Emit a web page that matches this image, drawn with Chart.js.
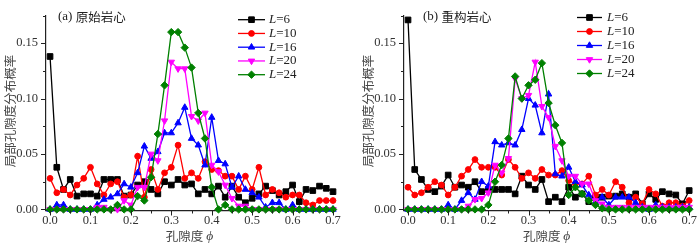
<!DOCTYPE html>
<html><head><meta charset="utf-8">
<script src="https://cdn.jsdelivr.net/npm/chart.js@4.4.0/dist/chart.umd.min.js"></script>
<style>
html,body{margin:0;padding:0;background:#fff;width:700px;height:244px;overflow:hidden;}
#wrap{position:relative;width:700px;height:244px;}
.pn{position:absolute;top:0;height:244px;}
</style></head><body>
<div id="wrap">
<div class="pn" style="left:0;width:350px"><canvas id="ca" width="350" height="244"></canvas></div>
<div class="pn" style="left:358px;width:342px"><canvas id="cb" width="342" height="244"></canvas></div>
</div>
<script>
// porosity values (x)
const phi = [0,0.0167,0.0333,0.05,0.0667,0.0833,0.1,0.1167,0.1333,0.15,0.1667,0.1833,0.2,0.2167,0.2333,0.25,0.2667,0.2833,0.3,0.3167,0.3333,0.35,0.3667,0.3833,0.4,0.4167,0.4333,0.45,0.4667,0.4833,0.5,0.5167,0.5333,0.55,0.5667,0.5833,0.6,0.6167,0.6333,0.65,0.6667,0.6833,0.7];
const windowSizes = ['6','10','16','20','24'];

// (a) 原始岩心
const a_L6  = [0.138,0.038,0.018,0.027,0.012,0.014,0.014,0.012,0.027,0.027,0.027,0.012,0.013,0.022,0.025,0.018,0.014,0.025,0.022,0.027,0.022,0.023,0.014,0.018,0.014,0.021,0.011,0.021,0.011,0.006,0.010,0.014,0.021,0.017,0.013,0.016,0.022,0.007,0.018,0.017,0.021,0.019,0.016];
const a_L10 = [0.028,0.015,0.018,0.013,0.022,0.028,0.038,0.023,0.013,0.023,0.025,0.011,0.013,0.048,0.011,0.036,0.018,0.033,0.038,0.058,0.028,0.033,0.028,0.043,0.036,0.035,0.030,0.030,0.018,0.030,0.018,0.038,0.013,0.018,0.015,0.011,0.013,0.013,0.006,0.004,0.008,0.008,0.008];
const a_L16 = [0,0.004,0.004,0,0,0,0,0.004,0.009,0.011,0.014,0.023,0.020,0.033,0.057,0.046,0.052,0.069,0.069,0.078,0.092,0.064,0.058,0.040,0.083,0.044,0.041,0.020,0.030,0.018,0.015,0.011,0.002,0.006,0.006,0,0.004,0,0,0,0,0,0];
const a_L20 = [0,0,0,0,0,0,0,0.002,0.002,0,0,0.008,0.004,0.020,0.020,0.050,0.044,0.080,0.133,0.127,0.127,0.084,0.080,0.087,0.040,0.034,0.022,0.010,0.003,0.003,0,0,0,0,0,0,0,0,0,0,0,0,0];
const a_L24 = [0,0,0,0,0,0,0,0,0,0,0.004,0,0,0.012,0.008,0.029,0.068,0.112,0.160,0.160,0.146,0.128,0.087,0.064,0.020,0,0.004,0,0,0,0,0,0,0,0,0,0,0,0,0,0,0,0];

// (b) 重构岩心
const b_L6  = [0.171,0.036,0.027,0.018,0.016,0.021,0.031,0.020,0.022,0.020,0.025,0.016,0.018,0.018,0.018,0.018,0.014,0.030,0.022,0.018,0.027,0.007,0.011,0.007,0.020,0.011,0.014,0.007,0.011,0.011,0.012,0.012,0.014,0.011,0.014,0.005,0.014,0.009,0.016,0.014,0.013,0.005,0.017];
const b_L10 = [0.020,0.013,0.015,0.020,0.025,0.022,0.013,0.020,0.030,0.036,0.045,0.038,0.038,0.038,0.031,0.045,0.038,0.028,0.033,0.028,0.036,0.031,0.031,0.035,0.026,0.023,0.023,0.030,0.013,0.018,0.013,0.025,0.020,0.006,0.011,0.005,0.018,0.014,0.003,0.006,0.006,0.003,0.008];
const b_L16 = [0,0,0,0,0,0,0.004,0,0.008,0.015,0.009,0.025,0.021,0.061,0.058,0.060,0.058,0.072,0.100,0.094,0.069,0.104,0.032,0.030,0.038,0.025,0.022,0.013,0.006,0.011,0.004,0.011,0.011,0.011,0.006,0.002,0,0.004,0.002,0.002,0.002,0.002,0.002];
const b_L20 = [0,0,0,0,0,0,0,0,0,0.003,0.009,0.010,0.015,0.040,0.033,0.046,0.118,0.100,0.103,0.133,0.093,0.083,0.057,0.044,0.030,0.030,0.023,0.023,0.008,0.005,0.002,0.002,0.002,0.002,0.002,0.002,0.002,0.002,0.002,0.002,0.002,0.002,0.002];
const b_L24 = [0,0,0,0,0,0,0,0,0,0,0,0,0.004,0.025,0.040,0.064,0.120,0.100,0.112,0.117,0.132,0.096,0.076,0.060,0.013,0.020,0.014,0.008,0.004,0.001,0,0,0,0,0,0,0,0,0,0,0,0,0];

const xTickVals = [0,0.1,0.2,0.3,0.4,0.5,0.6,0.7];
const xMinorVals = [0.05,0.15,0.25,0.35,0.45,0.55,0.65];
const yTickVals = [0,0.05,0.10,0.15];
const yMinorVals = [0.025,0.075,0.125,0.175];

const colors = ['#000000','#ff0000','#0000ff','#ff00ff','#008000'];
const markers = [
  {style:'rect', r:4, rot:0},
  {style:'circle', r:2.9, rot:0},
  {style:'triangle', r:3.7, rot:0},
  {style:'triangle', r:3.7, rot:180},
  {style:'rectRot', r:3.7, rot:0}
];
const SERIF = "'Liberation Serif','DejaVu Serif',serif";
const CJK = "'Noto Sans CJK SC','Noto Sans CJK JP',sans-serif";

function makeChart(id, series, labelLatin, labelCJK, cfg) {
  const datasets = series.map((arr, i) => ({
    label: 'L=' + windowSizes[i],
    data: phi.map((x, k) => ({x: x, y: arr[k]})),
    borderColor: colors[i],
    backgroundColor: colors[i],
    borderWidth: 1.3,
    pointStyle: markers[i].style,
    pointRadius: markers[i].r,
    pointRotation: markers[i].rot,
    pointBorderWidth: 1,
    pointBackgroundColor: colors[i],
    pointBorderColor: colors[i],
    tension: 0,
    clip: false,
    order: 4 - i
  }));

  const deco = {
    id: 'deco',
    afterDraw(chart) {
      const ctx = chart.ctx;
      const xs = chart.scales.x, ys = chart.scales.y;
      const ca = chart.chartArea;
      ctx.save();
      // tick marks
      ctx.strokeStyle = '#222';
      ctx.lineWidth = 1;
      const by = ca.bottom;
      xTickVals.forEach(v => { const p = Math.round(xs.getPixelForValue(v)) + 0.5; ctx.beginPath(); ctx.moveTo(p, by); ctx.lineTo(p, by + 5); ctx.stroke(); });
      xMinorVals.forEach(v => { const p = Math.round(xs.getPixelForValue(v)) + 0.5; ctx.beginPath(); ctx.moveTo(p, by); ctx.lineTo(p, by + 3); ctx.stroke(); });
      const lx = ca.left;
      yTickVals.forEach(v => { const p = Math.round(ys.getPixelForValue(v)) + 0.5; ctx.beginPath(); ctx.moveTo(lx, p); ctx.lineTo(lx - 5, p); ctx.stroke(); });
      yMinorVals.forEach(v => { const p = Math.round(ys.getPixelForValue(v)) + 0.5; ctx.beginPath(); ctx.moveTo(lx, p); ctx.lineTo(lx - 3, p); ctx.stroke(); });

      // legend
      series.forEach((arr, i) => {
        const y = cfg.legY + i * cfg.legDy;
        ctx.strokeStyle = colors[i];
        ctx.fillStyle = colors[i];
        ctx.lineWidth = 1.3;
        ctx.beginPath(); ctx.moveTo(cfg.legX0, y); ctx.lineTo(cfg.legX1, y); ctx.stroke();
        ctx.lineWidth = 1;
        Chart.helpers.drawPoint(ctx, {pointStyle: markers[i].style, rotation: markers[i].rot, radius: markers[i].r, borderWidth: 1}, (cfg.legX0 + cfg.legX1) / 2, y);
        ctx.fillStyle = '#222';
        ctx.textBaseline = 'middle';
        ctx.textAlign = 'left';
        ctx.font = 'italic 13px ' + SERIF;
        ctx.fillText('L', cfg.legTx, y);
        const w = ctx.measureText('L').width;
        ctx.font = '13px ' + SERIF;
        ctx.fillText('=' + windowSizes[i], cfg.legTx + w, y);
      });

      // panel label
      ctx.fillStyle = '#222';
      ctx.textBaseline = 'middle';
      ctx.textAlign = 'left';
      ctx.font = '13px ' + SERIF;
      ctx.fillText(labelLatin, cfg.panX, cfg.panY);
      const wl = ctx.measureText(labelLatin).width;
      ctx.font = '12.5px ' + CJK;
      ctx.fillText(labelCJK, cfg.panX + wl, cfg.panY);

      // x title
      const cx = (ca.left + ca.right) / 2;
      ctx.fillStyle = '#444';
      ctx.font = '12.5px ' + CJK;
      const t1 = '孔隙度 ';
      const w1 = ctx.measureText(t1).width;
      ctx.font = 'italic 13.5px ' + SERIF;
      const w2 = ctx.measureText('ϕ').width;
      const sx = cx - (w1 + w2) / 2;
      ctx.font = '12.5px ' + CJK;
      ctx.fillText(t1, sx, 236.5);
      ctx.font = 'italic 13.5px ' + SERIF;
      ctx.fillText('ϕ', sx + w1, 236.5);

      // y title
      ctx.save();
      ctx.translate(10, 111);
      ctx.rotate(-Math.PI / 2);
      ctx.textAlign = 'center';
      ctx.textBaseline = 'middle';
      ctx.font = '12.5px ' + CJK;
      ctx.fillStyle = '#444';
      ctx.fillText('局部孔隙度分布概率', 0, 0);
      ctx.restore();

      ctx.restore();
    }
  };

  return new Chart(document.getElementById(id), {
    type: 'line',
    data: {datasets},
    options: {
      responsive: false,
      animation: false,
      devicePixelRatio: 1,
      layout: {padding: {left: 0, right: cfg.padRight, top: 1, bottom: 0}},
      plugins: {legend: {display: false}, tooltip: {enabled: false}},
      scales: {
        x: {
          type: 'linear', min: -0.01, max: 0.7,
          afterFit: s => { s.height = 33.5; },
          afterBuildTicks: s => { s.ticks = xTickVals.map(v => ({value: v})); },
          grid: {color: 'transparent', drawTicks: false},
          border: {display: true, color: '#222', width: 1.2},
          ticks: {autoSkip: false, maxRotation: 0, padding: 3, color: '#333',
                  font: {family: SERIF, size: 12.5},
                  callback: v => Number(v).toFixed(1)}
        },
        y: {
          type: 'linear', min: -0.001, max: 0.175,
          afterFit: s => { s.width = 46; },
          afterBuildTicks: s => { s.ticks = yTickVals.map(v => ({value: v})); },
          grid: {color: 'transparent', drawTicks: false},
          border: {display: true, color: '#222', width: 1.2},
          ticks: {autoSkip: false, padding: 8, color: '#333',
                  font: {family: SERIF, size: 12.5},
                  callback: v => Number(v).toFixed(2)}
        }
      }
    },
    plugins: [deco]
  });
}

makeChart('ca', [a_L6, a_L10, a_L16, a_L20, a_L24], '(a) ', '原始岩心',
  {padRight: 17, legX0: 238, legX1: 265, legTx: 269, legY: 19.7, legDy: 13.75, panX: 58, panY: 17});
makeChart('cb', [b_L6, b_L10, b_L16, b_L20, b_L24], '(b) ', '重构岩心',
  {padRight: 8, legX0: 219, legX1: 244, legTx: 249, legY: 17.5, legDy: 14, panX: 65, panY: 17});
</script>
</body></html>
